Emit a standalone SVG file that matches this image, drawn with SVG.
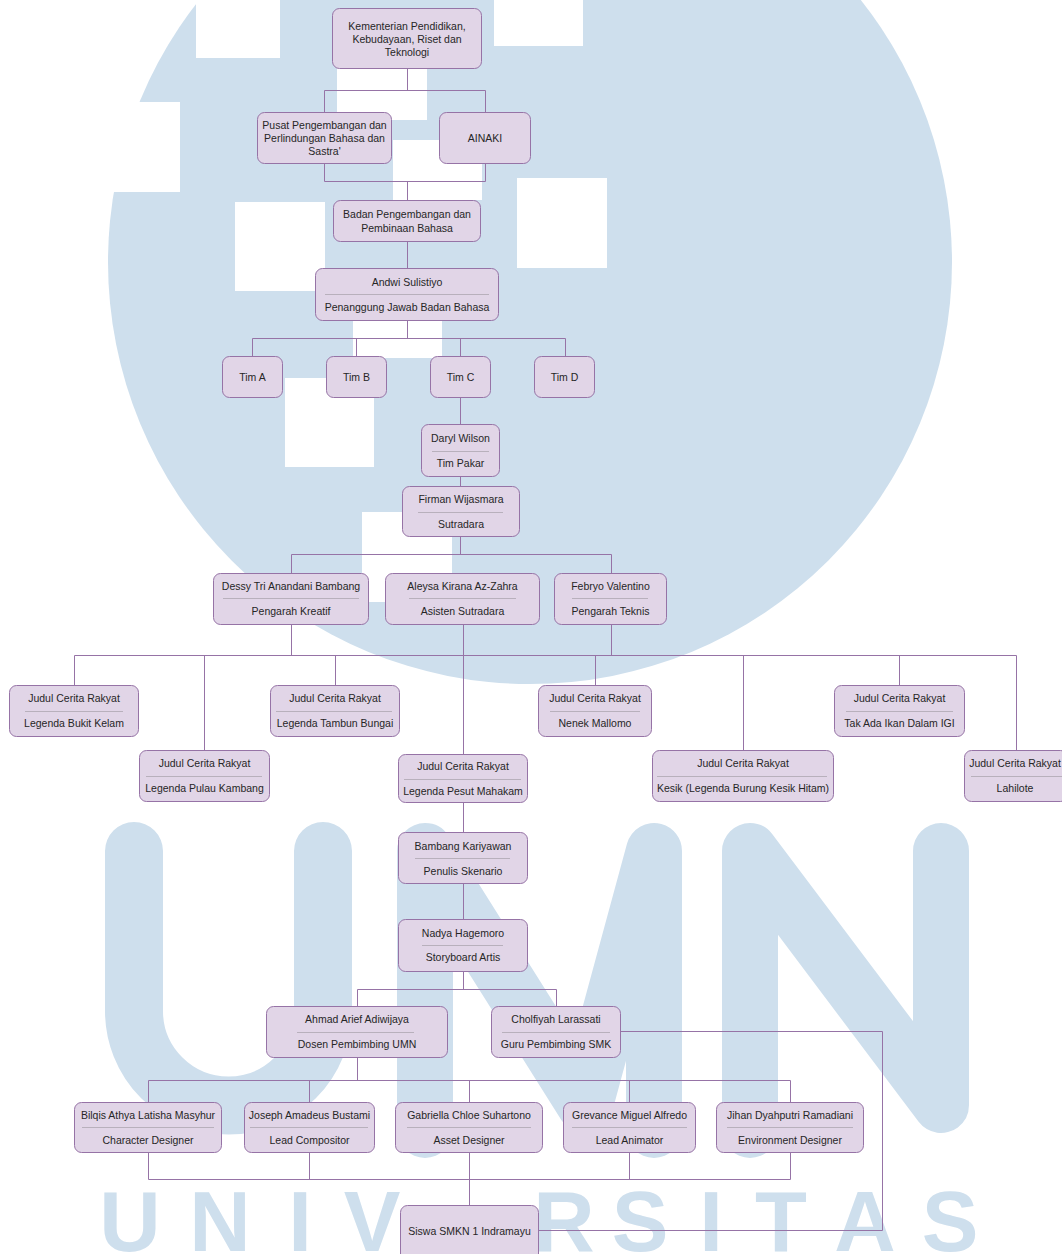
<svg xmlns="http://www.w3.org/2000/svg" width="1062" height="1254" viewBox="0 0 1062 1254">
<style>
.wm{fill:#cedfed}
.wmw{fill:#ffffff}
.wml{fill:none;stroke:#cedfed;stroke-linecap:round;stroke-linejoin:round}
.wmt{font-family:"Liberation Sans",Arial,sans-serif;font-weight:bold;font-size:85px;fill:#cedfed;text-anchor:middle}
.box{fill:#e1d5e7;stroke:#9673a6;stroke-width:1}
.div{stroke:#b8b0bc;stroke-width:1}
.t{font-family:"Liberation Sans",Arial,Helvetica,sans-serif;font-size:10.5px;fill:#262626;text-anchor:middle}
.c{fill:none;stroke:#9673a6;stroke-width:1}
</style>
<rect x="0" y="0" width="1062" height="1254" fill="#ffffff"/>
<g id="watermark">
<circle class="wm" cx="530" cy="262" r="422"/>
<rect class="wmw" x="196" y="0" width="84" height="58"/>
<rect class="wmw" x="494" y="0" width="89" height="46"/>
<rect class="wmw" x="90" y="102" width="90" height="90"/>
<rect class="wmw" x="337" y="68" width="90" height="52"/>
<rect class="wmw" x="393" y="140" width="89" height="60"/>
<rect class="wmw" x="235" y="202" width="90" height="89"/>
<rect class="wmw" x="517" y="178" width="90" height="90"/>
<rect class="wmw" x="353" y="270" width="89" height="88"/>
<rect class="wmw" x="285" y="378" width="89" height="89"/>
<rect class="wmw" x="362" y="512" width="90" height="90"/>
<path class="wml" stroke-width="58" d="M134,851 V1011 A94.5,94.5 0 0 0 323,1011 V851"/>
<path class="wml" stroke-width="56" d="M425,1130 V851 L585,1105 L654,851 V1130"/>
<path class="wml" stroke-width="56" d="M750,1130 V851 L941,1105 V851"/>
<text class="wmt" x="130 220 300 372" y="1251">UNIV</text>
<text class="wmt" x="564 640 711 781 865 950" y="1251">RSITAS</text>
</g>
<g id="connectors">
<path class="c" d="M407.5,69 V90.5 M324.5,90.5 H485.5 M324.5,90.5 V112 M485.5,90.5 V112"/>
<path class="c" d="M324.5,164 V181.5 H485.5 V164 M407.5,181.5 V200"/>
<path class="c" d="M407.5,242 V268"/>
<path class="c" d="M407.5,321 V338.5 M252.5,338.5 H565.5 M252.5,338.5 V356 M356.5,338.5 V356 M460.5,338.5 V356 M565.5,338.5 V356"/>
<path class="c" d="M460.5,398 V424"/>
<path class="c" d="M460.5,477 V486"/>
<path class="c" d="M460.5,537 V554.5 M291.5,554.5 H611.5 M291.5,554.5 V573 M611.5,554.5 V573"/>
<path class="c" d="M291.5,625 V655.5 M611.5,625 V655.5 M74.5,655.5 H1016.5 M74.5,655.5 V685 M204.5,655.5 V750 M335.5,655.5 V685 M595.5,655.5 V685 M743.5,655.5 V750 M899.5,655.5 V685 M1016.5,655.5 V750"/>
<path class="c" d="M463.5,625 V754"/>
<path class="c" d="M463.5,803 V832"/>
<path class="c" d="M463.5,884 V919"/>
<path class="c" d="M463.5,972 V989.5 M357.5,989.5 H556.5 M357.5,989.5 V1006 M556.5,989.5 V1006"/>
<path class="c" d="M357.5,1058 V1080.5 M148.5,1080.5 H790.5 M148.5,1080.5 V1102 M309.5,1080.5 V1102 M469.5,1080.5 V1102 M629.5,1080.5 V1102 M790.5,1080.5 V1102"/>
<path class="c" d="M621,1031.5 H882.5 V1230.5 H539"/>
<path class="c" d="M148.5,1153 V1179.5 H790.5 V1153 M309.5,1153 V1179.5 M629.5,1153 V1179.5 M469.5,1153 V1205"/>
</g>
<g id="n-kementerian"><rect class="box" x="332.5" y="8.5" width="149" height="60" rx="7"/>
<text class="t" x="407" y="29.5">Kementerian Pendidikan,</text><text class="t" x="407" y="42.5">Kebudayaan, Riset dan</text><text class="t" x="407" y="55.5">Teknologi</text></g>
<g id="n-pusat"><rect class="box" x="257.5" y="112.5" width="134" height="51" rx="7"/>
<text class="t" x="324.5" y="129">Pusat Pengembangan dan</text><text class="t" x="324.5" y="142">Perlindungan Bahasa dan</text><text class="t" x="324.5" y="155">Sastra'</text></g>
<g id="n-ainaki"><rect class="box" x="439.5" y="112.5" width="91" height="51" rx="7"/>
<text class="t" x="485" y="142">AINAKI</text></g>
<g id="n-badan"><rect class="box" x="333.5" y="200.5" width="147" height="41" rx="7"/>
<text class="t" x="407" y="218">Badan Pengembangan dan</text><text class="t" x="407" y="231.5">Pembinaan Bahasa</text></g>
<g id="n-andwi"><rect class="box" x="315.5" y="268.5" width="183" height="52" rx="7"/>
<text class="t" x="407" y="286">Andwi Sulistiyo</text><line class="div" x1="325" y1="294.5" x2="489" y2="294.5"/><text class="t" x="407" y="311">Penanggung Jawab Badan Bahasa</text></g>
<g id="n-tima"><rect class="box" x="222.5" y="356.5" width="60" height="41" rx="7"/><text class="t" x="252.5" y="381">Tim A</text></g>
<g id="n-timb"><rect class="box" x="326.5" y="356.5" width="60" height="41" rx="7"/><text class="t" x="356.5" y="381">Tim B</text></g>
<g id="n-timc"><rect class="box" x="430.5" y="356.5" width="60" height="41" rx="7"/><text class="t" x="460.5" y="381">Tim C</text></g>
<g id="n-timd"><rect class="box" x="534.5" y="356.5" width="60" height="41" rx="7"/><text class="t" x="564.5" y="381">Tim D</text></g>
<g id="n-daryl"><rect class="box" x="421.5" y="424.5" width="78" height="52" rx="7"/>
<text class="t" x="460.5" y="442">Daryl Wilson</text><line class="div" x1="432" y1="451.5" x2="489" y2="451.5"/><text class="t" x="460.5" y="467">Tim Pakar</text></g>
<g id="n-firman"><rect class="box" x="402.5" y="486.5" width="117" height="50" rx="7"/>
<text class="t" x="461" y="503">Firman Wijasmara</text><line class="div" x1="418" y1="512.5" x2="503" y2="512.5"/><text class="t" x="461" y="528">Sutradara</text></g>
<g id="n-dessy"><rect class="box" x="213.5" y="573.5" width="155" height="51" rx="7"/>
<text class="t" x="291" y="589.5">Dessy Tri Anandani Bambang</text><line class="div" x1="223" y1="598.5" x2="359" y2="598.5"/><text class="t" x="291" y="614.5">Pengarah Kreatif</text></g>
<g id="n-aleysa"><rect class="box" x="385.5" y="573.5" width="154" height="51" rx="7"/>
<text class="t" x="462.5" y="589.5">Aleysa Kirana Az-Zahra</text><line class="div" x1="409" y1="598.5" x2="516" y2="598.5"/><text class="t" x="462.5" y="614.5">Asisten Sutradara</text></g>
<g id="n-febryo"><rect class="box" x="554.5" y="573.5" width="112" height="51" rx="7"/>
<text class="t" x="610.5" y="589.5">Febryo Valentino</text><line class="div" x1="572" y1="598.5" x2="648" y2="598.5"/><text class="t" x="610.5" y="614.5">Pengarah Teknis</text></g>
<g id="n-bukit"><rect class="box" x="9.5" y="685.5" width="129" height="51" rx="7"/>
<text class="t" x="74" y="702">Judul Cerita Rakyat</text><line class="div" x1="25" y1="711.5" x2="123" y2="711.5"/><text class="t" x="74" y="727">Legenda Bukit Kelam</text></g>
<g id="n-tambun"><rect class="box" x="270.5" y="685.5" width="129" height="51" rx="7"/>
<text class="t" x="335" y="702">Judul Cerita Rakyat</text><line class="div" x1="276" y1="711.5" x2="392" y2="711.5"/><text class="t" x="335" y="727">Legenda Tambun Bungai</text></g>
<g id="n-nenek"><rect class="box" x="538.5" y="685.5" width="113" height="51" rx="7"/>
<text class="t" x="595" y="702">Judul Cerita Rakyat</text><line class="div" x1="550" y1="711.5" x2="640" y2="711.5"/><text class="t" x="595" y="727">Nenek Mallomo</text></g>
<g id="n-takada"><rect class="box" x="834.5" y="685.5" width="130" height="51" rx="7"/>
<text class="t" x="899.5" y="702">Judul Cerita Rakyat</text><line class="div" x1="846" y1="711.5" x2="953" y2="711.5"/><text class="t" x="899.5" y="727">Tak Ada Ikan Dalam IGI</text></g>
<g id="n-pulau"><rect class="box" x="139.5" y="750.5" width="130" height="51" rx="7"/>
<text class="t" x="204.5" y="767">Judul Cerita Rakyat</text><line class="div" x1="146" y1="776.5" x2="262" y2="776.5"/><text class="t" x="204.5" y="792">Legenda Pulau Kambang</text></g>
<g id="n-pesut"><rect class="box" x="398.5" y="754.5" width="129" height="48" rx="7"/>
<text class="t" x="463" y="770">Judul Cerita Rakyat</text><line class="div" x1="404" y1="779.5" x2="521" y2="779.5"/><text class="t" x="463" y="795">Legenda Pesut Mahakam</text></g>
<g id="n-kesik"><rect class="box" x="652.5" y="750.5" width="181" height="51" rx="7"/>
<text class="t" x="743" y="767">Judul Cerita Rakyat</text><line class="div" x1="657" y1="776.5" x2="827" y2="776.5"/><text class="t" x="743" y="792">Kesik (Legenda Burung Kesik Hitam)</text></g>
<g id="n-lahilote"><rect class="box" x="964.5" y="750.5" width="103" height="51" rx="7"/>
<text class="t" x="1015" y="767">Judul Cerita Rakyat</text><line class="div" x1="971" y1="776.5" x2="1062" y2="776.5"/><text class="t" x="1015" y="792">Lahilote</text></g>
<g id="n-bambang"><rect class="box" x="398.5" y="832.5" width="129" height="51" rx="7"/>
<text class="t" x="463" y="850">Bambang Kariyawan</text><line class="div" x1="415" y1="858.5" x2="510" y2="858.5"/><text class="t" x="463" y="875">Penulis Skenario</text></g>
<g id="n-nadya"><rect class="box" x="398.5" y="919.5" width="129" height="52" rx="7"/>
<text class="t" x="463" y="937">Nadya Hagemoro</text><line class="div" x1="422" y1="945.5" x2="503" y2="945.5"/><text class="t" x="463" y="961">Storyboard Artis</text></g>
<g id="n-ahmad"><rect class="box" x="266.5" y="1006.5" width="181" height="51" rx="7"/>
<text class="t" x="357" y="1023">Ahmad Arief Adiwijaya</text><line class="div" x1="297" y1="1032.5" x2="414" y2="1032.5"/><text class="t" x="357" y="1048">Dosen Pembimbing UMN</text></g>
<g id="n-cholfiyah"><rect class="box" x="491.5" y="1006.5" width="129" height="51" rx="7"/>
<text class="t" x="556" y="1023">Cholfiyah Larassati</text><line class="div" x1="502" y1="1032.5" x2="610" y2="1032.5"/><text class="t" x="556" y="1048">Guru Pembimbing SMK</text></g>
<g id="n-bilqis"><rect class="box" x="74.5" y="1102.5" width="147" height="50" rx="7"/>
<text class="t" x="148" y="1119">Bilqis Athya Latisha Masyhur</text><line class="div" x1="82" y1="1127.5" x2="214" y2="1127.5"/><text class="t" x="148" y="1144">Character Designer</text></g>
<g id="n-joseph"><rect class="box" x="244.5" y="1102.5" width="130" height="50" rx="7"/>
<text class="t" x="309.5" y="1119">Joseph Amadeus Bustami</text><line class="div" x1="250" y1="1127.5" x2="368" y2="1127.5"/><text class="t" x="309.5" y="1144">Lead Compositor</text></g>
<g id="n-gabriella"><rect class="box" x="395.5" y="1102.5" width="147" height="50" rx="7"/>
<text class="t" x="469" y="1119">Gabriella Chloe Suhartono</text><line class="div" x1="407" y1="1127.5" x2="531" y2="1127.5"/><text class="t" x="469" y="1144">Asset Designer</text></g>
<g id="n-grevance"><rect class="box" x="563.5" y="1102.5" width="132" height="50" rx="7"/>
<text class="t" x="629.5" y="1119">Grevance Miguel Alfredo</text><line class="div" x1="572" y1="1127.5" x2="687" y2="1127.5"/><text class="t" x="629.5" y="1144">Lead Animator</text></g>
<g id="n-jihan"><rect class="box" x="716.5" y="1102.5" width="147" height="50" rx="7"/>
<text class="t" x="790" y="1119">Jihan Dyahputri Ramadiani</text><line class="div" x1="727" y1="1127.5" x2="853" y2="1127.5"/><text class="t" x="790" y="1144">Environment Designer</text></g>
<g id="n-siswa"><rect class="box" x="400.5" y="1205.5" width="138" height="56" rx="7"/>
<text class="t" x="469.5" y="1235">Siswa SMKN 1 Indramayu</text></g>
</svg>
